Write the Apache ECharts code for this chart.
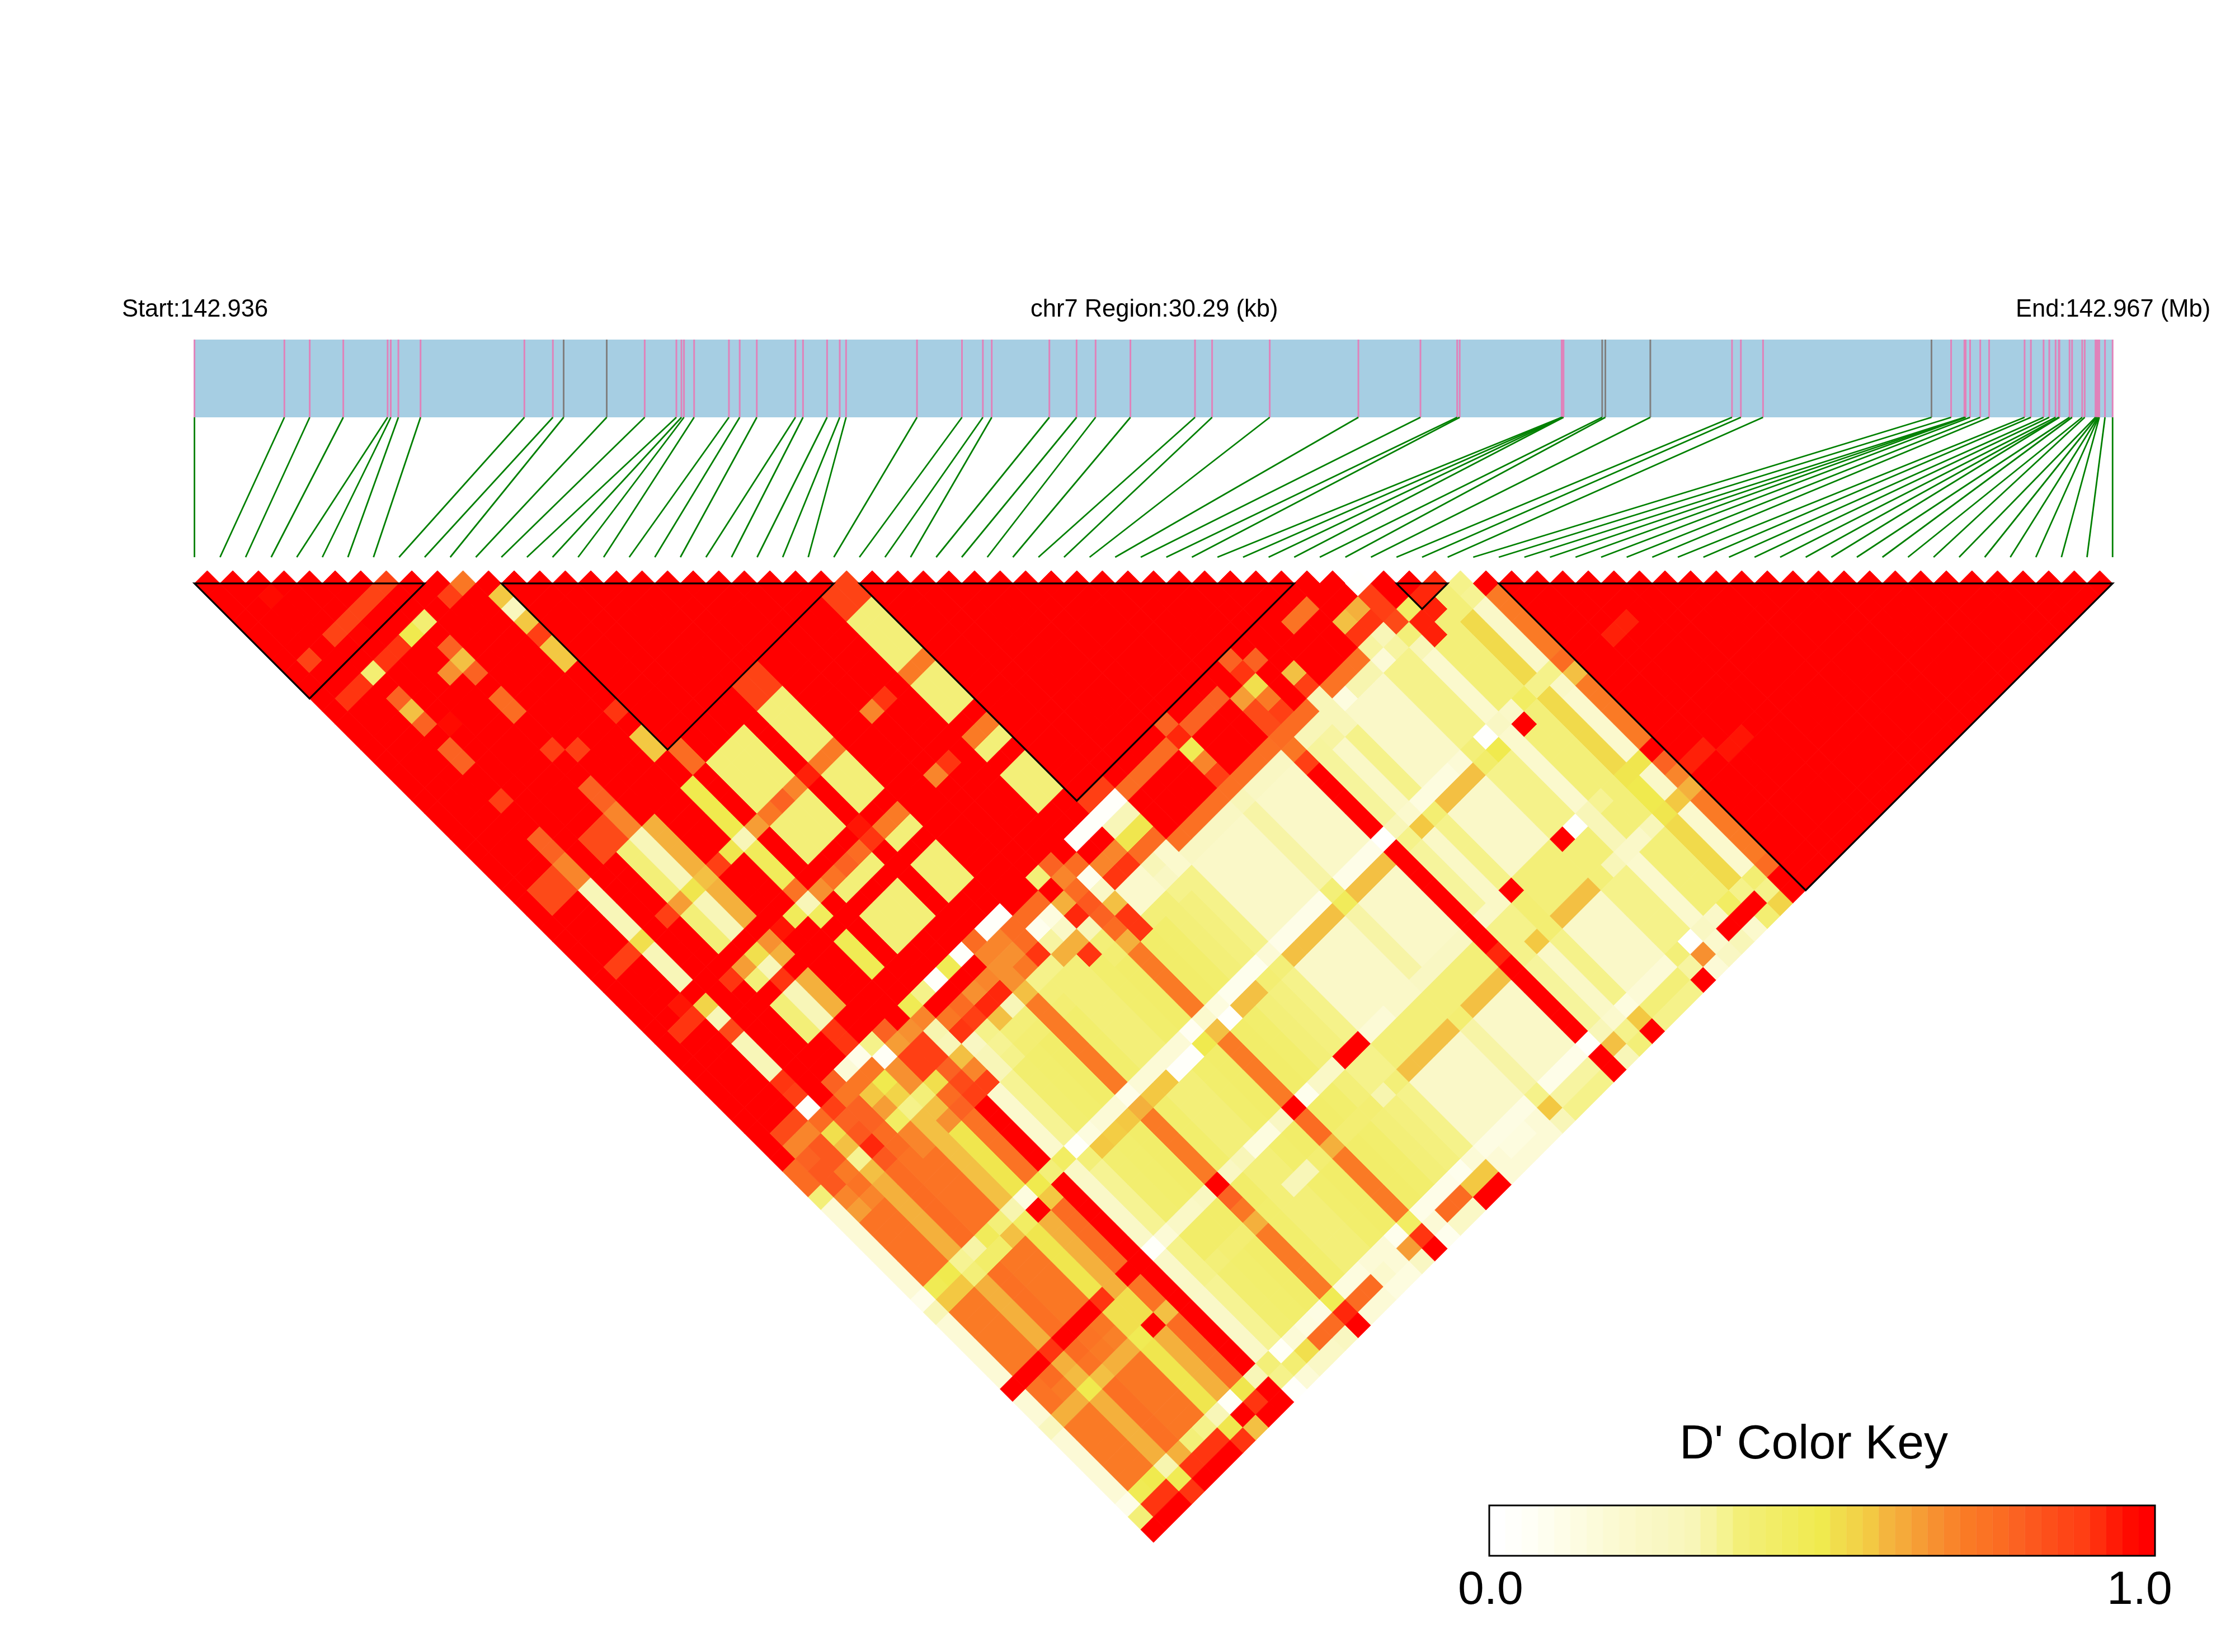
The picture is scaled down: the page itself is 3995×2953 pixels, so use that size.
<!DOCTYPE html>
<html><head><meta charset="utf-8">
<style>html,body{margin:0;padding:0;background:#fff}#c{width:3995px;height:2953px}</style>
<script src="https://cdn.jsdelivr.net/npm/echarts@6/dist/echarts.min.js"></script>
</head><body><div id="c"></div>
<script>
const snpCount = 76;
const regionKb = 30.29;
const snpKb = [0,1.42,1.82,2.35,3.05,3.10,3.22,3.57,5.21,5.66,5.83,6.51,7.11,7.61,7.69,7.73,7.89,8.44,8.61,8.88,9.49,9.61,9.99,10.19,10.29,11.41,12.12,12.45,12.59,13.50,13.93,14.23,14.78,15.80,16.07,16.98,18.38,19.36,19.94,19.98,21.59,21.60,21.61,21.62,22.23,22.28,22.99,24.28,24.42,24.77,27.43,27.74,27.95,27.96,27.97,28.04,28.20,28.34,28.90,29.00,29.20,29.29,29.39,29.44,29.45,29.61,29.65,29.81,29.85,30.02,30.04,30.06,30.07,30.08,30.17,30.29];
const greySnps = [10,11,44,45,46,50];
const blocks = [[0,9],[12,25],[26,43],[47,49],[51,75]];

// D' by SNP i (index in array) for a given later SNP j
const bandA = [.10,.74,.74,.65,.77,.75,.75,.48,.65,.78,1,.13,.28,.36,.37,.38,.74,.37,.33,.33,.37,.38,.74,.38,.37,.33,.32,.30,.13,.13,.13,.13,.24,.13,.13,.13,1,.26,.14,.30,.13,.13,.13,.30,.30,.12,.33,.33,.52,.12,.74];
const bandB = [.10,.76,.76,.65,.78,.76,.76,.62,.48,.76,1,.12,.28,.36,.37,.38,.74,.37,.33,.33,.37,.38,.74,.38,.37,.33,.32,.30,.13,.13,.13,.13,.24,.13,.13,.13,1,.26,.14,.30,.13,.13,.13,.30,.30,.12,.33,.33,.52,.13,.74];
const col44 = [1,1,1,.88,1,1,1,.9,1,1,1,1,1,1,1,1,1,1,1,1,1,1,1,1,1,1,.88,.88,1,1,1,1,.8,1,1,1,1,.8,1,1,1,1,1,1];
const col45 = [1,.85,.85,.02,1,.8,.1,.06,.3,.8,1,.45,.3,.02,.45,.02,.78,.02,.02,1,1,.33,.8,1,.02,.02,.02,.02,.78,.78,.78,.78,.92,.8,.8,.8,1,.9,.8,1,1,.76,.76,1,1];
const col46 = [1,.72,.72,.78,.88,.75,.75,.75,.03,.68,.7,.72,1,1,1,1,.72,.72,.78,.78,.78,1,.72,.78,1,1,.2,.2,1,1,1,1,.45,1,1,1,.68,.5,1,1,1,1,1,1,1,.01];
const col47 = [.78,.8,.82,.5,.8,.8,.6,.47,.7,.88,.88,.22,.75,.78,.7,.72,.7,.7,.78,.05,.08,.65,.78,.05,.72,.72,.48,.48,1,1,1,1,.72,1,1,1,.85,.74,1,.62,1,1,1,.62,.65,.88,1];
const col48 = [.78,.82,.82,.62,.82,.8,.68,.55,.7,.88,.88,.2,.9,.88,.92,.92,.7,.75,.9,.25,.14,.92,.82,.14,.9,.9,.78,.78,1,1,1,1,.88,1,1,1,.85,.88,1,.88,1,1,1,.9,.9,.88,1,1];
const col49 = [.33,.82,.74,.28,.92,.78,.4,.3,.33,.5,.8,.62,.15,.3,.62,.2,.62,.3,.3,.65,.65,.2,.8,.62,.12,.12,.2,.12,.77,.77,.77,.77,.77,.77,.77,.77,.78,.78,.78,.2,.76,.76,.76,.25,.2,.85,.4,.92,.92];
const col50 = [.1,.72,.76,.62,.82,.78,.72,.62,.62,.78,.85,.72,.2,.28,.33,.33,.74,.33,.33,.33,.9,.33,.78,.9,.12,.12,.15,.12,.15,.15,.15,.15,.2,.15,.15,.15,.75,.2,.2,.2,.08,.22,.22,.1,.25,.33,.93,.93,.33,.3];
const col51 = [.1,.68,.72,.65,.78,.76,.72,.62,.7,.8,.88,.88,.2,.3,.35,.35,.74,.35,.33,.33,.37,.35,.65,.9,.33,.33,.3,.3,.13,.13,.13,.13,.24,.13,.13,.13,.88,.26,.25,.2,.13,.13,.13,.3,.3,.2,.93,.33,.33,.28,1];
const col57 = [.06,.45,.47,.28,.24,.43,.33,.22,.08,.47,.33,.4,.02,.08,.1,.1,.06,.1,.1,.1,.1,.04,.12,.08,.05,.05,.05,.1,.06,.06,.06,.06,.33,.06,.06,.06,.01,.2,.12,.08,.08,.08,.1,.33,.01,.15,.13,.4,.3,.3,.78];
const col58 = [.2,.6,.6,.33,.38,.38,.62,.4,1,.6,1,.14,.33,.6,.58,.6,.65,.6,.6,.02,.02,.47,.62,.02,.62,.62,.35,.33,.62,.62,.62,.62,.43,.62,.62,.62,1,.3,.6,.35,.62,.62,.62,.38,.47,.12,1,.33,.52,.14,.62];
const col64 = [1,1,1,.9,1,1,1,.9,.65,1,1,.02,.1,.14,.14,.16,1,.15,.2,.08,.08,.15,1,.05,.14,.14,1,1,.1,.1,.13,.13,.15,.15,.15,.15,1,.13,.14,1,.33,.33,.33,1,.01,.2,.28,.33,.48,.48,1];
const col65 = [.1,.76,.78,.65,.78,.76,.75,.5,.5,.76,1,.13,.3,.38,.38,.38,.8,.38,.33,.33,.37,.38,.78,.38,.37,.33,.3,.3,.33,.33,.33,.33,.33,.33,.33,.33,1,.3,.3,.35,.33,.33,.33,.33,.33,.2,.33,.33,.47,.13,.8];
const col66 = [.1,.76,.74,.63,.76,.74,.73,.5,.5,.76,1,.13,.3,.38,.38,.38,.75,.38,.33,.33,.37,.38,.78,.38,.37,.33,.3,.3,.33,.33,.33,.33,.33,.33,.33,.33,.92,.3,.3,.35,.33,.33,.33,.33,.33,.2,.33,.33,.47,.13,.72];
const col67 = [.17,.65,.65,.47,.62,.65,.65,.45,1,.62,1,.14,.3,.33,.35,.35,.65,.37,.33,.2,.2,.35,.65,.35,.35,.35,.22,.33,.62,.62,.62,.62,.35,.62,.62,.62,1,.3,.6,.35,.62,.62,.62,.33,.2,.13,.13,.2,.48,.6,.65];
const col73 = [.06,.45,.47,.22,.65,.33,.3,.2,.03,.48,.2,.33,.03,.1,.08,.07,.45,.08,.08,.1,.1,.05,.4,.06,.06,.06,.05,.1,.07,.07,.07,.07,.3,.06,.06,.06,.02,.2,.12,.08,.1,.1,.1,.33,.01,.15,.13,.4,.3,.35,.78];
const col74 = [.33,.9,.9,.45,.9,.9,.9,.48,1,.9,1,.3,.35,.5,.78,.78,.92,.78,.78,.12,.1,.68,.9,.1,.78,.78,.6,.6,.1,.08,.08,.1,.6,.25,.25,.25,1,.62,.3,.6,.33,.33,.33,.25,.7,.12,1,1,1,.3,1];
const col75 = [1,1,1,.9,1,1,1,.9,.62,1,1,.02,.1,.14,.14,.16,1,.1,.1,.08,.08,.15,1,.05,.14,.14,1,1,.1,.1,.1,.1,.2,.3,.3,.3,1,.2,.33,1,.3,.3,.3,1,.1,.15,.2,.12,.35,.55,1];

// small read-off groups: [first i, last i, first j, last j, D']
const earlyPatches = [
[2,2,4,4,.97],[3,7,8,8,.87],[4,4,9,9,.99],[1,1,8,8,.87],[10,10,11,11,.75],[9,9,11,11,.88],
[7,7,11,11,.35],[6,6,11,11,.47],[4,5,11,11,.9],[3,3,11,11,.35],[1,2,11,11,.9],
[11,11,13,13,.6],[11,11,14,14,.18],[11,11,15,15,.6],[11,11,16,16,.88],[11,11,17,18,.6],[11,11,22,22,.9],[11,11,24,25,.6],
[7,7,13,13,.8],[7,7,14,14,.62],[7,7,15,15,.8],[6,6,14,14,.7],[3,3,13,13,.8],[3,3,14,14,.62],[3,3,15,15,.8],[4,4,16,16,.97],
[3,3,17,18,.8],[7,7,17,18,.78],[7,7,21,21,.88],[8,8,22,22,.88],[3,3,21,21,.88],
[7,7,24,25,.8],[7,7,26,27,.72],[3,3,24,25,.8],[3,3,26,27,.72],[5,6,26,27,.85],[1,2,26,27,.85],[12,12,26,27,.78],
[24,25,26,27,.87],[17,18,26,27,.87]
];
const stripePatches = [
[3,3,28,31,.2],[6,6,28,31,.33],[7,7,28,31,.2],[8,8,28,31,.65],[11,11,28,31,.47],[13,15,28,31,.34],[17,18,28,31,.33],[24,25,28,31,.33],
[1,2,32,32,.88],[3,3,32,32,.5],[5,5,32,32,.88],[6,6,32,32,.68],[7,7,32,32,.48],[8,8,32,32,.62],[9,9,32,32,.88],[10,10,32,32,.48],[11,11,32,32,.2],[12,12,32,32,.68],[13,13,32,32,.75],[14,14,32,32,.8],[15,15,32,32,.72],[16,16,32,32,.93],[17,18,32,32,.74],[21,21,32,32,.72],[22,22,32,32,.9],[24,25,32,32,.74],
[3,3,33,35,.2],[6,6,33,35,.33],[7,7,33,35,.2],[8,8,33,35,.65],[11,11,33,35,.43],[13,15,33,35,.33],[17,18,33,35,.33],[24,25,33,35,.33],
[2,2,36,36,.95],[11,11,36,36,.76],[16,16,36,36,.95],
[1,2,37,37,.9],[3,3,37,37,.55],[5,5,37,37,.9],[6,6,37,37,.68],[7,7,37,37,.5],[8,8,37,37,.7],[9,9,37,37,.95],[10,10,37,37,.43],[11,11,37,37,.2],[12,12,37,37,.7],[13,13,37,37,.76],[14,14,37,37,.8],[15,15,37,37,.78],[16,16,37,37,.9],[17,18,37,37,.74],[21,21,37,37,.72],[22,22,37,37,.9],[24,25,37,37,.74],
[3,3,38,38,.2],[6,6,38,38,.33],[7,7,38,38,.2],[8,8,38,38,.65],[11,11,38,38,.42],[13,15,38,38,.33],[17,18,38,38,.33],[24,25,38,38,.33],
[3,3,39,39,.85],[7,7,39,39,.9],
[3,3,40,42,.2],[6,6,40,42,.33],[7,7,40,42,.2],[8,8,40,42,.65],[11,11,40,42,.45],[13,15,40,42,.33],[17,18,40,42,.33],[24,25,40,42,.33],
[3,3,43,43,.9],[7,7,43,43,.9]
];
const latePatches = [[53,54,58,58,.93],[51,52,66,66,.93],[53,54,67,67,.95]];

const colourLevels = [0,.02,.06,.13,.2,.3,.33,.47,.5,.6,.62,.65,.7,.74,.78,.8,.85,.88,.9,.93,.97,1];
const colourStops = ['#ffffff','#fffffa','#fefde8','#faf8c8','#f8f6b8','#f5f28a','#f3ef78','#f0ea4e','#f1df4d','#f3c842','#f3c043','#f4b03c','#f79030','#fa7a25','#fb6c22','#fb6222','#fd4a18','#ff3f14','#ff3510','#ff2008','#ff0a00','#ff0000'];
const keyLevels = [0,.015,.03,.045,.06,.075,.09,.105,.12,.135,.15,.175,.2,.243,.287,.33,.358,.386,.414,.442,.47,.51,.55,.595,.64,.66,.68,.70,.72,.74,.76,.78,.8,.82,.84,.86,.88,.91,.94,.97,1];
const headerLabels = ['Start:142.936','chr7 Region:30.29 (kb)','End:142.967 (Mb)'];
const keyTitle = "D' Color Key";
const keyTicks = ['0.0','1.0'];

const bandColumns = {44:col44,45:col45,46:col46,47:col47,48:col48,49:col49,50:col50,51:col51,52:bandB,53:bandB,54:bandB,55:bandB,56:bandB,57:col57,58:col58,59:bandA,60:bandA,61:bandA,62:bandA,63:bandA,64:col64,65:col65,66:col66,67:col67,68:bandA,69:bandA,70:bandA,71:bandA,72:bandA,73:col73,74:col74,75:col75};

const matrix = [];
for (let i=0;i<snpCount;i++){ matrix.push(new Array(snpCount).fill(1)); }
for (const j in bandColumns){ bandColumns[j].forEach((v,i)=>{ if(i<+j) matrix[i][+j]=v; }); }
[...earlyPatches,...stripePatches,...latePatches].forEach(p=>{
  for(let i=p[0];i<=p[1];i++) for(let j=p[2];j<=p[3];j++) matrix[i][j]=p[4];
});
const cells=[];
for(let i=0;i<snpCount;i++) for(let j=i+1;j<snpCount;j++) cells.push([i,j,matrix[i][j]]);

function hex(c){return [1,3,5].map(k=>parseInt(c.substr(k,2),16));}
function colourOf(v){
  let k=0; while(k<colourLevels.length-2 && v>colourLevels[k+1]) k++;
  const t=Math.min(1,Math.max(0,(v-colourLevels[k])/(colourLevels[k+1]-colourLevels[k])));
  const a=hex(colourStops[k]),b=hex(colourStops[k+1]);
  return 'rgb('+a.map((x,n)=>Math.round(x+(b[n]-x)*t)).join(',')+')';
}

const X0=347.6, PLOT_W=3428.6, Y0=1042.9, HALF=PLOT_W/150;
const chart=echarts.init(document.getElementById('c'),null,{renderer:'canvas'});
const hidden={show:false};
chart.setOption({
  animation:false,
  backgroundColor:'#ffffff',
  grid:[
    {left:X0,top:Y0,width:PLOT_W,height:HALF*75},
    {left:X0,top:607,width:PLOT_W,height:389},
    {left:2662,top:2691,width:1190,height:90}
  ],
  xAxis:[
    {type:'value',gridIndex:0,min:0,max:75,...hidden},
    {type:'value',gridIndex:1,min:0,max:regionKb,...hidden},
    {type:'value',gridIndex:2,min:0,max:keyLevels.length,...hidden}
  ],
  yAxis:[
    {type:'value',gridIndex:0,min:0,max:75,inverse:true,...hidden},
    {type:'value',gridIndex:1,min:0,max:389,inverse:true,...hidden},
    {type:'value',gridIndex:2,min:0,max:1,...hidden}
  ],
  series:[
    {type:'custom',xAxisIndex:1,yAxisIndex:1,silent:true,progressive:0,clip:false,z:1,
     data:[[0]],
     renderItem(p,api){
       const a=api.coord([0,0]),b=api.coord([regionKb,139]);
       return {type:'rect',shape:{x:a[0],y:a[1],width:b[0]-a[0],height:b[1]-a[1]},style:{fill:'#a6cee3'}};
     }},
    {type:'custom',xAxisIndex:1,yAxisIndex:1,silent:true,progressive:0,clip:false,z:2,
     data:snpKb.map((k,idx)=>[k,idx]),
     renderItem(p,api){
       const k=api.value(0),idx=api.value(1);
       const a=api.coord([k,0]),b=api.coord([k,139]),c=api.coord([idx*regionKb/75,389]);
       const grey=greySnps.includes(idx);
       return {type:'group',children:[
         {type:'line',shape:{x1:a[0],y1:a[1],x2:b[0],y2:b[1]},style:{stroke:grey?'#808080':'#e082ba',lineWidth:3}},
         {type:'line',shape:{x1:b[0],y1:b[1],x2:c[0],y2:c[1]},style:{stroke:'#008000',lineWidth:2.8}}
       ]};
     }},
    {type:'custom',xAxisIndex:0,yAxisIndex:0,silent:true,progressive:0,clip:false,z:3,
     data:cells,
     renderItem(p,api){
       const i=api.value(0),j=api.value(1),v=api.value(2);
       const x=(i+j)/2,y=j-i-1;
       const pts=[[x,y-1],[x+.5,y],[x,y+1],[x-.5,y]].map(q=>api.coord(q));
       const col=colourOf(v);
       return {type:'polygon',shape:{points:pts},style:{fill:col,stroke:col,lineWidth:1}};
     }},
    {type:'custom',xAxisIndex:0,yAxisIndex:0,silent:true,progressive:0,clip:false,z:4,
     data:blocks,
     renderItem(p,api){
       const a=api.value(0),b=api.value(1);
       const pts=[[a,0],[b,0],[(a+b)/2,b-a]].map(q=>api.coord(q));
       return {type:'polygon',shape:{points:pts},style:{fill:'none',stroke:'#000',lineWidth:3.2}};
     }},
    {type:'custom',xAxisIndex:2,yAxisIndex:2,silent:true,progressive:0,clip:false,z:3,
     data:keyLevels.map((v,k)=>[k,v]),
     renderItem(p,api){
       const k=api.value(0);
       const a=api.coord([k,1]),b=api.coord([k+1,0]);
       const col=colourOf(api.value(1));
       return {type:'rect',shape:{x:a[0],y:a[1],width:b[0]-a[0],height:b[1]-a[1]},style:{fill:col,stroke:col,lineWidth:.5}};
     }},
    {type:'custom',xAxisIndex:2,yAxisIndex:2,silent:true,progressive:0,clip:false,z:4,
     data:[[0]],
     renderItem(p,api){
       const a=api.coord([0,1]),b=api.coord([keyLevels.length,0]);
       return {type:'rect',shape:{x:a[0],y:a[1],width:b[0]-a[0],height:b[1]-a[1]},style:{fill:'none',stroke:'#000',lineWidth:3}};
     }}
  ],
  graphic:[
    {type:'text',left:218,top:532,style:{text:headerLabels[0],font:'43.5px "Liberation Sans"',fill:'#000'}},
    {type:'text',left:1842,top:532,style:{text:headerLabels[1],font:'43.5px "Liberation Sans"',fill:'#000'}},
    {type:'text',left:3603,top:532,style:{text:headerLabels[2],font:'43.5px "Liberation Sans"',fill:'#000'}},
    {type:'text',left:3002,top:2540,style:{text:keyTitle,font:'86px "Liberation Sans"',fill:'#000'}},
    {type:'text',left:2606,top:2802,style:{text:keyTicks[0],font:'84px "Liberation Sans"',fill:'#000'}},
    {type:'text',left:3766,top:2802,style:{text:keyTicks[1],font:'84px "Liberation Sans"',fill:'#000'}}
  ]
});
</script></body></html>
